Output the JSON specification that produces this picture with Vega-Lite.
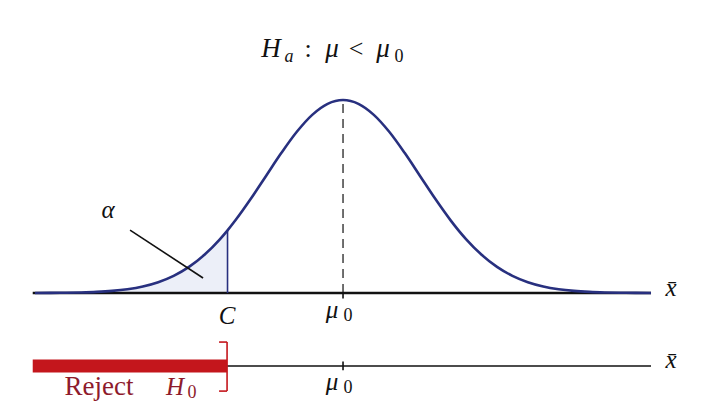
{
  "$schema": "https://vega.github.io/schema/vega-lite/v6.json",
  "width": 717,
  "height": 416,
  "padding": 0,
  "autosize": {"type": "fit", "contains": "padding"},
  "background": "white",
  "config": {"view": {"stroke": null}, "text": {"font": "'Liberation Serif', 'DejaVu Serif', 'Times New Roman', serif"}},
  "datasets": {
    "curve": [
      {"x": -4.0, "y": 0.0003}, {"x": -3.8, "y": 0.0007}, {"x": -3.6, "y": 0.0015}, {"x": -3.4, "y": 0.0031},
      {"x": -3.2, "y": 0.0060}, {"x": -3.0, "y": 0.0111}, {"x": -2.8, "y": 0.0198}, {"x": -2.6, "y": 0.0340},
      {"x": -2.4, "y": 0.0561}, {"x": -2.2, "y": 0.0889}, {"x": -2.0, "y": 0.1353}, {"x": -1.8, "y": 0.1979},
      {"x": -1.6, "y": 0.2780}, {"x": -1.5, "y": 0.3247}, {"x": -1.4, "y": 0.3753}, {"x": -1.2, "y": 0.4868},
      {"x": -1.0, "y": 0.6065}, {"x": -0.8, "y": 0.7261}, {"x": -0.6, "y": 0.8353}, {"x": -0.4, "y": 0.9231},
      {"x": -0.2, "y": 0.9802}, {"x": 0.0, "y": 1.0}, {"x": 0.2, "y": 0.9802}, {"x": 0.4, "y": 0.9231},
      {"x": 0.6, "y": 0.8353}, {"x": 0.8, "y": 0.7261}, {"x": 1.0, "y": 0.6065}, {"x": 1.2, "y": 0.4868},
      {"x": 1.4, "y": 0.3753}, {"x": 1.6, "y": 0.2780}, {"x": 1.8, "y": 0.1979}, {"x": 2.0, "y": 0.1353},
      {"x": 2.2, "y": 0.0889}, {"x": 2.4, "y": 0.0561}, {"x": 2.6, "y": 0.0340}, {"x": 2.8, "y": 0.0198},
      {"x": 3.0, "y": 0.0111}, {"x": 3.2, "y": 0.0060}, {"x": 3.4, "y": 0.0031}, {"x": 3.6, "y": 0.0015},
      {"x": 3.8, "y": 0.0007}, {"x": 4.0, "y": 0.0003}
    ],
    "tail": [
      {"x": -4.0, "y": 0.0003}, {"x": -3.8, "y": 0.0007}, {"x": -3.6, "y": 0.0015}, {"x": -3.4, "y": 0.0031},
      {"x": -3.2, "y": 0.0060}, {"x": -3.0, "y": 0.0111}, {"x": -2.8, "y": 0.0198}, {"x": -2.6, "y": 0.0340},
      {"x": -2.4, "y": 0.0561}, {"x": -2.2, "y": 0.0889}, {"x": -2.0, "y": 0.1353}, {"x": -1.8, "y": 0.1979},
      {"x": -1.6, "y": 0.2780}, {"x": -1.5, "y": 0.3247}
    ]
  },
  "encoding": {
    "x": {"field": "x", "type": "quantitative", "scale": {"domain": [-4.455, 4.857], "nice": false, "zero": false}, "axis": null},
    "y": {"field": "y", "type": "quantitative", "scale": {"domain": [-0.637, 1.518], "nice": false, "zero": false}, "axis": null}
  },
  "layer": [
    {
      "data": {"name": "tail"},
      "mark": {"type": "area", "color": "#eceff8", "interpolate": "monotone"},
      "encoding": {"y2": {"datum": 0}}
    },
    {
      "data": {"values": [{"x": -4.03, "y": 0, "x2": 4.0, "y2": 0}]},
      "mark": {"type": "rule", "color": "#111111", "strokeWidth": 2.5},
      "encoding": {"x2": {"field": "x2"}, "y2": {"field": "y2"}}
    },
    {
      "data": {"name": "curve"},
      "mark": {"type": "line", "color": "#28307f", "strokeWidth": 2.6, "interpolate": "monotone"},
      "encoding": {"order": {"field": "x", "type": "quantitative"}}
    },
    {
      "data": {"values": [{"x": -1.5, "y": 0, "x2": -1.5, "y2": 0.3247}]},
      "mark": {"type": "rule", "color": "#28307f", "strokeWidth": 1.6},
      "encoding": {"x2": {"field": "x2"}, "y2": {"field": "y2"}}
    },
    {
      "data": {"values": [{"x": 0, "y": 0, "x2": 0, "y2": 1.0}]},
      "mark": {"type": "rule", "color": "#111111", "strokeWidth": 1.2, "strokeDash": [9, 6]},
      "encoding": {"x2": {"field": "x2"}, "y2": {"field": "y2"}}
    },
    {
      "data": {"values": [
        {"x": 0, "y": 0, "x2": 0, "y2": -0.028},
        {"x": -2.766, "y": 0.326, "x2": -1.818, "y2": 0.078},
        {"x": -1.506, "y": -0.378, "x2": 4.0, "y2": -0.378},
        {"x": 0, "y": -0.355, "x2": 0, "y2": -0.4}
      ]},
      "mark": {"type": "rule", "color": "#111111", "strokeWidth": 1.6},
      "encoding": {"x2": {"field": "x2"}, "y2": {"field": "y2"}}
    },
    {
      "data": {"values": [{"x": -4.03, "y": -0.378, "x2": -1.506, "y2": -0.378}]},
      "mark": {"type": "rule", "color": "#c4161c", "strokeWidth": 13},
      "encoding": {"x2": {"field": "x2"}, "y2": {"field": "y2"}}
    },
    {
      "data": {"values": [
        {"x": -1.506, "y": -0.254, "x2": -1.506, "y2": -0.508},
        {"x": -1.61, "y": -0.254, "x2": -1.506, "y2": -0.254},
        {"x": -1.61, "y": -0.508, "x2": -1.506, "y2": -0.508}
      ]},
      "mark": {"type": "rule", "color": "#c4161c", "strokeWidth": 1.6},
      "encoding": {"x2": {"field": "x2"}, "y2": {"field": "y2"}}
    },
    {
      "data": {"values": [
        {"x": -0.935, "y": 1.223, "t": "H"},
        {"x": -0.143, "y": 1.223, "t": "μ"},
        {"x": 0.519, "y": 1.223, "t": "μ"}
      ]},
      "mark": {"type": "text", "fontStyle": "italic", "fontSize": 27, "color": "#111111", "align": "center", "baseline": "alphabetic"},
      "encoding": {"text": {"field": "t"}}
    },
    {
      "data": {"values": [
        {"x": -0.455, "y": 1.223, "t": ":"},
        {"x": 0.169, "y": 1.223, "t": "<"}
      ]},
      "mark": {"type": "text", "fontSize": 26, "color": "#111111", "align": "center", "baseline": "alphabetic"},
      "encoding": {"text": {"field": "t"}}
    },
    {
      "data": {"values": [{"x": -0.701, "y": 1.197, "t": "a"}]},
      "mark": {"type": "text", "fontStyle": "italic", "fontSize": 18, "color": "#111111", "align": "center", "baseline": "alphabetic"},
      "encoding": {"text": {"field": "t"}}
    },
    {
      "data": {"values": [
        {"x": 0.727, "y": 1.197, "t": "0"},
        {"x": 0.065, "y": -0.145, "t": "0"},
        {"x": 0.065, "y": -0.518, "t": "0"}
      ]},
      "mark": {"type": "text", "fontSize": 18, "color": "#111111", "align": "center", "baseline": "alphabetic"},
      "encoding": {"text": {"field": "t"}}
    },
    {
      "data": {"values": [
        {"x": -1.506, "y": -0.161, "t": "C"},
        {"x": -0.143, "y": -0.13, "t": "μ"},
        {"x": -0.143, "y": -0.503, "t": "μ"},
        {"x": -3.05, "y": 0.389, "t": "α"},
        {"x": 4.26, "y": -0.016, "t": "x̄"},
        {"x": 4.26, "y": -0.389, "t": "x̄"}
      ]},
      "mark": {"type": "text", "fontStyle": "italic", "fontSize": 25, "color": "#111111", "align": "center", "baseline": "alphabetic"},
      "encoding": {"text": {"field": "t"}}
    },
    {
      "data": {"values": [{"x": -3.169, "y": -0.528, "t": "Reject"}]},
      "mark": {"type": "text", "fontSize": 27, "color": "#8e1b2c", "align": "center", "baseline": "alphabetic"},
      "encoding": {"text": {"field": "t"}}
    },
    {
      "data": {"values": [{"x": -2.182, "y": -0.528, "t": "H"}]},
      "mark": {"type": "text", "fontStyle": "italic", "fontSize": 25, "color": "#8e1b2c", "align": "center", "baseline": "alphabetic"},
      "encoding": {"text": {"field": "t"}}
    },
    {
      "data": {"values": [{"x": -1.961, "y": -0.544, "t": "0"}]},
      "mark": {"type": "text", "fontSize": 18, "color": "#8e1b2c", "align": "center", "baseline": "alphabetic"},
      "encoding": {"text": {"field": "t"}}
    }
  ]
}
